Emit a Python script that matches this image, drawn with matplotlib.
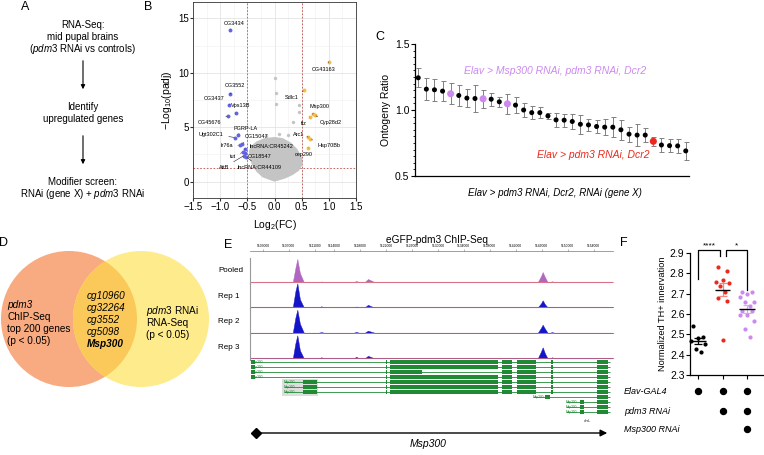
import matplotlib
matplotlib.use("Agg")
import matplotlib.pyplot as plt
from matplotlib.patches import Circle, Rectangle
from matplotlib.ticker import MultipleLocator
from matplotlib.transforms import blended_transform_factory
import numpy as np

plt.rcParams['font.family'] = ['Liberation Sans', 'DejaVu Sans']
plt.rcParams['mathtext.fontset'] = 'custom'
plt.rcParams['mathtext.rm'] = 'Liberation Sans'
plt.rcParams['mathtext.it'] = 'Liberation Sans:italic'
plt.rcParams['mathtext.bf'] = 'Liberation Sans:bold'

W, H = 764, 455

############################## Painel B (volcano) ##############################
azul_genes = ["CG3434", "CG3552", "CG3437", "Vps13B", "CG45676", "PGRP-LA", "Ugt302C1",
              "CG15047", "Ir76a", "lncRNA:CR45242", "tut", "CG18547", "AttB", "lncRNA:CR44109"]
azul_fc = [-0.82, -0.81, -0.83, -0.71, -0.85, -0.68, -0.72, -0.60, -0.64, -0.55, -0.58, -0.54, -0.56, -0.52]
azul_lp = [13.9, 8.05, 7.06, 6.3, 6.06, 4.3, 4.05, 3.5, 3.35, 3.0, 2.7, 2.6, 2.4, 2.3]
azul_txt = [(-0.74, 14.5), (-0.73, 8.8), (-1.11, 7.6), (-0.62, 6.95), (-1.2, 5.47), (-0.53, 4.9),
            (-1.16, 4.37), (-0.33, 4.16), (-0.88, 3.3), (-0.05, 3.24), (-0.77, 2.3), (-0.27, 2.3),
            (-0.93, 1.3), (-0.28, 1.3)]

laranja_genes = ["CG43163", "Sdlc1", "Msp300", "Cyp28d2", "ftz", "Arc1", "Hsp70Bb", "cep290"]
laranja_fc = [1.0, 0.55, 0.70, 0.74, 0.65, 0.62, 0.66, 0.62]
laranja_lp = [11.0, 8.4, 6.2, 6.1, 5.93, 4.1, 3.9, 3.1]
laranja_txt = [(0.9, 10.3), (0.31, 7.7), (0.82, 6.9), (1.03, 5.4), (0.54, 5.3), (0.44, 4.3),
               (1.0, 3.33), (0.53, 2.45)]

# nuvem cinza (contorno) e pontos cinza isolados
nuvem_fc = [0.0, -0.22, -0.33, -0.41, -0.46, -0.47, -0.43, -0.33, -0.18, 0.0, 0.15, 0.3,
            0.42, 0.5, 0.52, 0.45, 0.33, 0.2, 0.0]
nuvem_lp = [0.0, 0.4, 0.9, 1.5, 2.2, 2.8, 3.3, 3.7, 4.0, 4.1, 4.0, 3.6, 3.0, 2.3, 1.6, 1.0,
            0.6, 0.3, 0.0]
cinza_fc = [0.01, 0.02, 0.02, 0.45, 0.46, 0.34, 0.08, -0.15, 0.25]
cinza_lp = [9.5, 8.1, 7.1, 7.0, 6.4, 5.5, 4.4, 4.2, 4.3]

############################## Painel C ##############################
c_valores = [1.244, 1.158, 1.153, 1.143, 1.123, 1.110, 1.090, 1.087, 1.085, 1.082, 1.062, 1.047,
             1.037, 1.000, 0.980, 0.980, 0.955, 0.925, 0.923, 0.913, 0.892, 0.887, 0.875, 0.870,
             0.870, 0.850, 0.817, 0.810, 0.810, 0.763, 0.735, 0.730, 0.728, 0.690]
c_erros = [0.072, 0.082, 0.082, 0.078, 0.078, 0.076, 0.068, 0.105, 0.068, 0.05, 0.038, 0.076,
           0.063, 0.053, 0.047, 0.042, 0.025, 0.053, 0.05, 0.054, 0.073, 0.048, 0.053, 0.063,
           0.078, 0.076, 0.057, 0.082, 0.05, 0.035, 0.053, 0.049, 0.053, 0.067]
c_msp300 = [4, 8, 11]
c_pdm3 = [29]

############################## Painel E ##############################
regua_pos = [5103000, 5107000, 5111000, 5114000, 5118000, 5122000, 5126000, 5130000,
             5134000, 5138000, 5142000, 5146000, 5150000, 5154000]
chip_nomes = ["Pooled", "Rep 1", "Rep 2", "Rep 3"]
chip_x = [5101000, 5107600, 5108000, 5108300, 5108700, 5109300, 5111600, 5112000, 5112400,
          5117000, 5117400, 5117800, 5118700, 5119200, 5119700, 5120200, 5145400, 5145900,
          5146150, 5146500, 5146900, 5147300, 5147600, 5147900, 5157000]
chip_sinal = [
    [0, 0, 14, 23, 9, 0, 0, 0.5, 0, 0, 1.0, 0, 0, 3.0, 1.5, 0, 0, 6, 10, 5, 0, 0, 0.8, 0, 0],
    [0, 0, 16, 24, 8, 0, 0, 1.0, 0, 0, 0.8, 0, 0, 2.5, 1.0, 0, 0, 4, 7, 3, 0, 0, 0.6, 0, 0],
    [0, 0, 15, 23, 9, 0, 0, 0.6, 0, 0, 0.8, 0, 0, 2.0, 1.0, 0, 0, 5, 8, 4, 0, 0, 0.6, 0, 0],
    [0, 0, 15, 23, 8, 0, 0, 1.0, 0, 0, 1.5, 0, 0, 2.5, 1.2, 0, 0, 7, 11, 5, 0, 0, 1.0, 0, 0],
]

# transcritos do Msp300
exons_nucleo = [(5122000, 5122200), (5122600, 5139300), (5139800, 5141400), (5142200, 5145100),
                (5147450, 5147700), (5154500, 5156200)]
exons_curto = [(5122000, 5122200), (5122600, 5127500), (5139800, 5141400), (5142200, 5145100),
               (5147450, 5147700), (5154500, 5156200)]
tx_inicio = [5101200] * 4 + [5106200] * 3 + [5144600] + [5149700] * 3
tx_fim = [5156600] * 11
tx_exons = ([[(5101200, 5101700)] + exons_nucleo] * 2 + [[(5101200, 5101700)] + exons_curto]
            + [[(5101200, 5101700)] + exons_nucleo]
            + [[(5109200, 5111300)] + exons_nucleo] * 3
            + [[(5146500, 5147300), (5154500, 5156200)]]
            + [[(5151900, 5152500), (5154500, 5156200)]] * 3)

############################## Painel F ##############################
f_grupos = [
    [2.54, 2.485, 2.48, 2.465, 2.452, 2.43, 2.413],
    [2.833, 2.812, 2.768, 2.757, 2.754, 2.74, 2.707, 2.68, 2.663, 2.472],
    [2.707, 2.707, 2.70, 2.684, 2.661, 2.66, 2.638, 2.614, 2.616, 2.594, 2.594, 2.565, 2.525, 2.488],
]
f_linhas = ["Elav-GAL4", "pdm3 RNAi", "Msp300 RNAi"]
f_matriz = [[1, 1, 1], [0, 1, 1], [0, 0, 1]]

############################## Cores ##############################
cor_azul = "#6464E2"
cor_laranja = "#F4BC4C"
cor_cinza = "#C4C4C4"
cor_roxo = "#CC8AEE"
cor_vermelho = "#EA2A1E"
cor_verde = "#1F8A33"

##################################################################################

fig = plt.figure(figsize=(W / 100, H / 100), dpi=100)


def eixo(x0, y0, x1, y1):
    # eixo posicionado em pixels da figura
    return fig.add_axes([x0 / W, 1 - y1 / H, (x1 - x0) / W, (y1 - y0) / H])


# camada de fundo em pixels
ov = fig.add_axes([0, 0, 1, 1])
ov.set_xlim(0, W)
ov.set_ylim(H, 0)
ov.axis("off")

# letras dos paineis
for letra, (lx, ly) in zip("ABCDEF", [(25, 7), (148, 7), (380, 37), (4, 243), (228, 245), (624, 243)]):
    ov.text(lx, ly, letra, fontsize=9, ha="center", va="center")

# ---------------- Painel A ----------------
txt_a = dict(fontsize=7, ha="center", va="center")
ov.text(83, 25, "RNA-Seq:", **txt_a)
ov.text(83, 37, "mid pupal brains", **txt_a)
ov.text(83, 49, r"($\it{pdm3}$ RNAi vs controls)", **txt_a)
ov.text(83, 107, "Identify", **txt_a)
ov.text(83, 119, "upregulated genes", **txt_a)
ov.text(83, 182, "Modifier screen:", **txt_a)
ov.text(83, 194, r"RNAi (gene X) + $\it{pdm3}$ RNAi", **txt_a)
for y0, y1 in [(58, 92), (133, 167)]:
    ov.annotate("", xy=(83, y1), xytext=(83, y0),
                arrowprops=dict(arrowstyle="-|>", color="black", lw=0.8, mutation_scale=6))

# ---------------- Painel B ----------------
axB = eixo(193, 2, 356, 198)
axB.set_xlim(-1.5, 1.5)
axB.set_ylim(-1.5, 16.5)
axB.set_xticks([-1.5, -1.0, -0.5, 0.0, 0.5, 1.0, 1.5])
axB.set_yticks([0, 5, 10, 15])
axB.xaxis.set_minor_locator(MultipleLocator(0.25))
axB.yaxis.set_minor_locator(MultipleLocator(2.5))
axB.grid(True, which="major", color="#E4E4E4", lw=0.6)
axB.grid(True, which="minor", color="#F0F0F0", lw=0.4)
axB.set_axisbelow(True)
axB.tick_params(which="both", labelsize=7, length=2, color="#333333", pad=1)
axB.tick_params(which="minor", length=0)
for s in axB.spines.values():
    s.set_color("#333333")
    s.set_linewidth(0.6)
for xv in (-0.5, 0.5):
    axB.axvline(xv, color="#C0504D", lw=0.6, ls=(0, (2, 2)), zorder=1)
axB.axhline(1.3, color="#C0504D", lw=0.6, ls=(0, (2, 2)), zorder=1)
axB.fill(nuvem_fc, nuvem_lp, color=cor_cinza, lw=0, zorder=2)
axB.scatter(cinza_fc, cinza_lp, s=6, color=cor_cinza, lw=0, zorder=2)
axB.scatter(azul_fc, azul_lp, s=8, color=cor_azul, lw=0, zorder=3)
axB.scatter(laranja_fc, laranja_lp, s=8, color=cor_laranja, lw=0, zorder=3)
for nomes, fcs, lps, txts in [(azul_genes, azul_fc, azul_lp, azul_txt),
                              (laranja_genes, laranja_fc, laranja_lp, laranja_txt)]:
    for nome, fc, lp, (tx, ty) in zip(nomes, fcs, lps, txts):
        axB.annotate(nome, xy=(fc, lp), xytext=(tx, ty), fontsize=4, ha="center", va="center",
                     zorder=4, arrowprops=dict(arrowstyle="-", lw=0.4, color="#222222",
                                               shrinkA=1.5, shrinkB=1))
axB.set_xlabel(r"Log$_2$(FC)", fontsize=7.5, labelpad=4)
axB.set_ylabel("\u2212Log$_{10}$(padj)", fontsize=7.5, labelpad=3)

# ---------------- Painel C ----------------
axC = eixo(415, 44, 689, 176)
xc = np.arange(len(c_valores))
axC.errorbar(xc, c_valores, yerr=c_erros, fmt="none", ecolor="#808080", elinewidth=0.7,
             capsize=1.8, capthick=0.7, zorder=1)
cores_c = ["black"] * len(c_valores)
tam_c = [13] * len(c_valores)
for i in c_msp300:
    cores_c[i] = cor_roxo
    tam_c[i] = 26
for i in c_pdm3:
    cores_c[i] = cor_vermelho
    tam_c[i] = 26
axC.scatter(xc, c_valores, s=tam_c, color=cores_c, lw=0, zorder=2)
axC.set_xlim(-0.4, 33.4)
axC.set_ylim(0.5, 1.5)
axC.set_xticks([])
axC.set_yticks([0.5, 1.0, 1.5])
axC.set_yticklabels(["0.5", "1.0", "1.5"])
axC.yaxis.set_minor_locator(MultipleLocator(0.05))
axC.tick_params(axis="y", labelsize=7.5, length=3, width=0.8, pad=1)
axC.tick_params(axis="y", which="minor", length=1.5, width=0.6)
axC.spines["top"].set_visible(False)
axC.spines["right"].set_visible(False)
axC.spines["left"].set_linewidth(0.9)
axC.spines["bottom"].set_linewidth(0.9)
axC.patch.set_alpha(0)
axC.set_ylabel("Ontogeny Ratio", fontsize=7.5, labelpad=3)
ov.text(555, 71, "Elav > Msp300 RNAi, pdm3 RNAi, Dcr2", fontsize=7.5, style="italic",
        color=cor_roxo, ha="center", va="center")
ov.text(593, 155, "Elav > pdm3 RNAi, Dcr2", fontsize=7.5, style="italic",
        color=cor_vermelho, ha="center", va="center")
ov.text(555, 193, "Elav > pdm3 RNAi, Dcr2, RNAi (gene X)", fontsize=7, style="italic",
        ha="center", va="center")

# ---------------- Painel D (Venn) ----------------
c_esq = Circle((69, 319), 68, facecolor="#F8AA80", edgecolor="none")
c_dir = Circle((141, 319), 68, facecolor="#FEEB8C", edgecolor="none")
ov.add_patch(c_esq)
ov.add_patch(c_dir)
c_meio = Circle((141, 319), 68, facecolor="#FBC95A", edgecolor="none")
ov.add_patch(c_meio)
c_meio.set_clip_path(c_esq)
txt_d = dict(fontsize=7.2, ha="left", va="center")
ov.text(7, 305, "pdm3", style="italic", **txt_d)
ov.text(7, 317, "ChIP-Seq", **txt_d)
ov.text(7, 329, "top 200 genes", **txt_d)
ov.text(7, 341, "(p < 0.05)", **txt_d)
for k, g in enumerate(["cg10960", "cg32264", "cg3552", "cg5098"]):
    ov.text(87, 296 + 12 * k, g, style="italic", **txt_d)
ov.text(87, 344, "Msp300", style="italic", fontweight="bold", **txt_d)
ov.text(146, 311, r"$\it{pdm3}$ RNAi", **txt_d)
ov.text(146, 323, "RNA-Seq", **txt_d)
ov.text(146, 335, "(p < 0.05)", **txt_d)

# ---------------- Painel E (ChIP) ----------------
xlim_gen = (5101000, 5157000)
ov.text(437, 240, "eGFP-pdm3 ChIP-Seq", fontsize=7.3, ha="center", va="center")
axR = eixo(250, 251, 613, 252)
axR.set_xlim(*xlim_gen)
axR.set_ylim(0, 1)
axR.patch.set_alpha(0)
for lado in ("left", "right", "bottom"):
    axR.spines[lado].set_visible(False)
axR.spines["top"].set_color("#777777")
axR.spines["top"].set_linewidth(0.5)
axR.xaxis.tick_top()
axR.set_xticks(regua_pos)
axR.set_xticklabels([str(p) for p in regua_pos])
axR.tick_params(axis="x", labelsize=2.4, length=1.5, width=0.4, pad=0.8, color="#777777")
axR.set_yticks([])

bases = [282, 307.3, 332.7, 358.3]
for k, (nome, sinal, base) in enumerate(zip(chip_nomes, chip_sinal, bases)):
    axT = eixo(250, base - 24.5, 613, base + 1.5)
    axT.set_xlim(*xlim_gen)
    axT.set_ylim(-1.5, 24.5)
    axT.patch.set_alpha(0)
    for lado in ("top", "right", "bottom"):
        axT.spines[lado].set_visible(False)
    axT.spines["left"].set_color("#999999")
    axT.spines["left"].set_linewidth(0.8)
    axT.set_xticks([])
    axT.set_yticks([])
    axT.axhline(0, color="#E06A6A", lw=0.8, alpha=0.7)
    cor = "#B267BF" if k == 0 else "#1515C8"
    axT.fill_between(chip_x, 0, sinal, color=cor, lw=0.3)
    ov.text(218, base - 11, nome, fontsize=5.8, ha="left", va="center")

# modelos de genes
axG = eixo(250, 359.5, 613, 414.5)
axG.set_xlim(*xlim_gen)
axG.set_ylim(10.5, -0.5)
axG.axis("off")
axG.add_patch(Rectangle((5105900, 3.4), 5600, 3.4, facecolor="#DDDDDD", edgecolor="none"))
for linha, (ini, fim, exs) in enumerate(zip(tx_inicio, tx_fim, tx_exons)):
    axG.hlines(linha, ini, fim, color=cor_verde, lw=0.6)
    axG.broken_barh([(a, b - a) for a, b in exs], (linha - 0.4, 0.8), facecolor=cor_verde)
    axG.text(ini, linha, "Msp300", fontsize=2.3, color=cor_verde, ha="left", va="center")
ov.text(588, 421, "dvsL", fontsize=2.5, color="#333333", ha="center", va="center")

# seta do gene
ov.plot([256], [433], marker="D", color="black", ms=5)
ov.annotate("", xy=(610, 433), xytext=(256, 433),
            arrowprops=dict(arrowstyle="-|>", color="black", lw=1.0, mutation_scale=10))
ov.text(428, 444, "Msp300", fontsize=7.5, style="italic", ha="center", va="center")

# ---------------- Painel F ----------------
axF = eixo(690, 253, 764, 375)
axF.set_xlim(-0.33, 2.69)
axF.set_ylim(2.3, 2.9)
axF.set_yticks([2.3, 2.4, 2.5, 2.6, 2.7, 2.8, 2.9])
axF.set_yticklabels(["2.3", "2.4", "2.5", "2.6", "2.7", "2.8", "2.9"])
axF.set_xticks([0, 1, 2])
axF.set_xticklabels([])
axF.tick_params(labelsize=7.5, length=3, width=0.8, pad=1)
axF.spines["top"].set_visible(False)
axF.spines["right"].set_visible(False)
axF.spines["left"].set_linewidth(0.9)
axF.spines["bottom"].set_linewidth(0.9)
axF.patch.set_alpha(0)
axF.set_ylabel("Normalized TH+ innervation", fontsize=6.6, labelpad=2)

cores_f = ["black", cor_vermelho, cor_roxo]
cores_sem = ["black", "#F08A80", "#DDAAF2"]
desloc = [-0.2, 0.2, 0.0, -0.28, 0.28, -0.1, 0.1]
for i, (vals, cor, cor_s) in enumerate(zip(f_grupos, cores_f, cores_sem)):
    ordem = np.argsort(vals)[::-1]
    xs = [i + desloc[j % len(desloc)] for j in range(len(vals))]
    axF.scatter(xs, np.array(vals)[ordem], s=9, color=cor, lw=0, zorder=3, clip_on=False)
    media = np.mean(vals)
    sem = np.std(vals, ddof=1) / np.sqrt(len(vals))
    axF.errorbar([i], [media], yerr=[sem], fmt="none", ecolor=cor_s, elinewidth=0.9,
                 capsize=3, capthick=0.9, zorder=2)
    axF.hlines(media, i - 0.32, i + 0.32, color="black", lw=1.0, zorder=4)

axF.plot([0, 0, 0.9, 0.9], [2.77, 2.913, 2.913, 2.885], color="black", lw=0.9, clip_on=False)
axF.plot([1.12, 1.12, 2, 2], [2.885, 2.913, 2.913, 2.72], color="black", lw=0.9, clip_on=False)
axF.text(0.45, 2.935, "****", fontsize=6, ha="center", va="center")
axF.text(1.56, 2.935, "*", fontsize=6, ha="center", va="center")

trans_f = blended_transform_factory(axF.transData, ov.transData)
for r, (rotulo, lin_y) in enumerate(zip(f_linhas, [391, 411, 429])):
    ov.text(624, lin_y, rotulo, fontsize=6.5, style="italic", ha="left", va="center")
    for i, v in enumerate(f_matriz[r]):
        if v:
            axF.plot([i], [lin_y], marker="o", color="black", ms=4.3, transform=trans_f,
                     clip_on=False)

fig.savefig("out.png", dpi=100)
